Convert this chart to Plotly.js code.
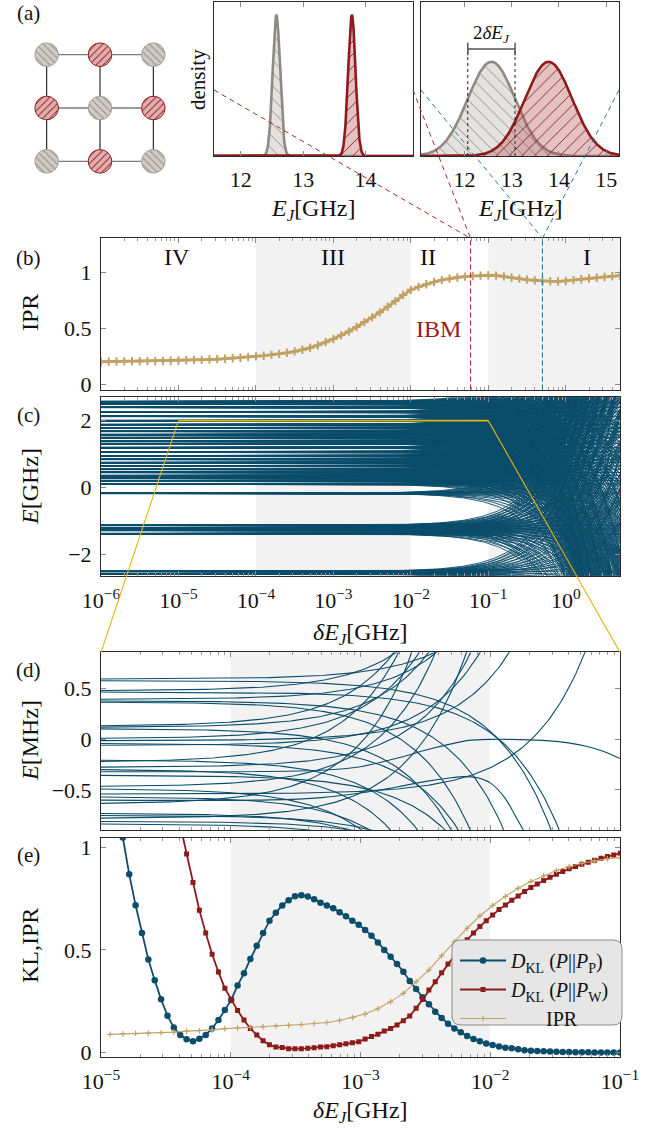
<!DOCTYPE html>
<html><head><meta charset="utf-8">
<script src="https://cdn.plot.ly/plotly-3.0.1.min.js"></script>
<style>html,body{margin:0;padding:0;background:#fff}#chart{width:667px;height:1129px}</style>
</head><body><div id="chart"></div>
<script>
// ================= DATA =================
// (a) lattice: checkerboard of two junction families
const latticeRows = [0,0,0,1,1,1,2,2,2];
const latticeCols = [0,1,2,0,1,2,0,1,2];
const latticeType = ['G','R','G','R','G','R','G','R','G'];
// (a) densities: family means (GHz) and disorder widths (GHz)
const meanGray = 12.57, meanRed = 13.78;
const deltaIBM = 0.059, deltaExample = 0.5;
const dens1Ticks = [12,13,14];
const dens2Ticks = [12,13,14,15];

// (b) IPR vs disorder, log10(deltaE_J) from -6 to 0.7, step 0.1
const iprBStart = -6.0, iprBStep = 0.1;
const iprB = [0.205,0.206,0.207,0.208,0.209,0.210,0.211,0.212,0.213,0.214,
  0.216,0.218,0.220,0.222,0.225,0.228,0.232,0.236,0.241,0.247,
  0.253,0.259,0.266,0.275,0.285,0.297,0.312,0.330,0.352,0.378,
  0.408,0.440,0.475,0.515,0.558,0.600,0.645,0.695,0.745,0.800,
  0.845,0.872,0.895,0.915,0.932,0.945,0.955,0.963,0.968,0.972,
  0.975,0.972,0.965,0.955,0.945,0.936,0.929,0.924,0.921,0.920,
  0.924,0.932,0.940,0.946,0.953,0.960,0.966,0.972];
const regionLabels = ['IV','III','II','I'];
const shadeBC = [[1e-4,1e-2],[1e-1,5.2]];
const shadeDE = [[1e-4,1e-2]];

// (c) spectrum (GHz): clustered levels at weak disorder, sub-level offsets and first-order slopes
const levelsC = [2.57,2.50,2.40,2.26,2.13,2.00,1.88,1.78,1.68,1.58,1.49,1.39,1.31,1.19,1.06,0.94,
  0.84,0.74,0.64,0.54,0.45,0.35,0.28,0.20,0.10,-0.18,-1.14,-1.22,-1.29,-1.39,-2.52,-2.59];
const subOffsetsC = [-0.009,-0.008,-0.007,-0.006,-0.005,-0.004,-0.003,-0.002,-0.001,0.0,
  0.0,0.001,0.002,0.003,0.004,0.005,0.006,0.007,0.008,0.009];
const subSlopesC = [-3.0,-2.4,-1.8,-1.3,-0.9,-0.6,-0.35,-0.15,0.0,0.15,
  0.3,0.5,0.7,0.95,1.2,1.5,1.9,2.3,2.8,3.3];

// (d) zoomed spectrum (MHz): levels and slopes (MHz per 1e-3 GHz of disorder)
const levelsD = [0.595,0.579,0.480,0.467,0.395,0.380,0.368,0.130,0.118,0.105,0.007,-0.013,-0.040,-0.060,
  -0.204,-0.224,-0.276,-0.296,-0.355,-0.467,-0.487,-0.540,-0.566,-0.638,-0.730,-0.750,-0.780,-0.810,-0.835];
const slopesD = [0.07,-0.05,0.20,-0.04,0.12,-0.10,-0.18,0.40,0.22,-0.20,0.30,0.062,-0.15,0.11,
  -0.25,0.55,0.16,-0.35,-0.12,0.35,-0.40,0.026,-0.28,0.60,-0.20,-0.12,0.25,-0.10,-0.15];
const avoidA_dE = [1e-5,1e-4,5e-4,1e-3,2e-3,3.2e-3,5e-3,6.8e-3,1e-2,1.4e-2,2.5e-2,4e-2,5.6e-2,7.5e-2,1e-1];
const avoidA_E  = [-0.320,-0.320,-0.305,-0.27,-0.18,-0.105,-0.045,-0.01,0.0,0.0,-0.01,-0.035,-0.07,-0.12,-0.19];
const avoidB_dE = [1e-5,2e-4,5e-4,1e-3,2e-3,3.2e-3,5e-3,6.3e-3,8e-3,1e-2,1.3e-2,1.6e-2,1.9e-2];
const avoidB_E  = [-0.600,-0.598,-0.575,-0.53,-0.465,-0.415,-0.38,-0.368,-0.38,-0.43,-0.58,-0.78,-0.95];

// (e) KL divergences and IPR on a log grid: log10(deltaE_J) = -4.93 + 0.04914*j
const gridEStart = -4.93, gridEStep = 0.04914;
const klPStartJ = 2;
const klP = [1.049,0.870,0.718,0.583,0.454,0.352,0.259,0.179,0.121,0.085,
  0.064,0.054,0.067,0.085,0.117,0.158,0.207,0.256,0.327,0.386,
  0.456,0.520,0.583,0.643,0.682,0.717,0.743,0.762,0.767,0.761,
  0.748,0.731,0.717,0.704,0.684,0.664,0.643,0.623,0.598,0.570,
  0.537,0.500,0.467,0.432,0.394,0.349,0.309,0.269,0.235,0.199,
  0.168,0.140,0.117,0.098,0.080,0.065,0.054,0.044,0.036,0.029,
  0.023,0.020,0.015,0.011,0.008,0.007,0.005,0.004,0.003,0.002,
  0.002,0.001,0.001,0.001,0.000,0.000,0.000,0.000,0.000];
const klWStartJ = 11;
const klW = [1.109,0.969,0.829,0.694,0.583,0.479,0.392,0.313,0.259,0.204,
  0.158,0.117,0.085,0.057,0.037,0.026,0.024,0.018,0.018,0.018,
  0.020,0.023,0.026,0.028,0.033,0.037,0.042,0.047,0.052,0.065,
  0.077,0.088,0.104,0.117,0.134,0.155,0.178,0.215,0.258,0.305,
  0.345,0.389,0.432,0.476,0.515,0.550,0.583,0.614,0.643,0.671,
  0.697,0.720,0.743,0.764,0.785,0.805,0.822,0.839,0.855,0.870,
  0.883,0.896,0.907,0.919,0.928,0.938,0.948,0.956,0.964,0.972];
const iprEStartJ = 0, iprEEvery = 2;
const iprE = [0.088,0.090,0.092,0.094,0.096,0.099,0.104,0.106,0.110,0.116,
  0.119,0.122,0.125,0.129,0.132,0.136,0.141,0.146,0.156,0.170,
  0.187,0.213,0.248,0.288,0.345,0.402,0.472,0.541,0.606,0.666,
  0.717,0.762,0.801,0.834,0.862,0.888,0.907,0.923,0.935,0.945,0.950];

const ticksBC = [1e-6,1e-5,1e-4,1e-3,1e-2,1e-1,1];
const tickTextBC = ['10<sup>−6</sup>','10<sup>−5</sup>','10<sup>−4</sup>','10<sup>−3</sup>','10<sup>−2</sup>','10<sup>−1</sup>','10<sup>0</sup>'];
const ticksDE = [1e-5,1e-4,1e-3,1e-2,1e-1];
const tickTextDE = ['10<sup>−5</sup>','10<sup>−4</sup>','10<sup>−3</sup>','10<sup>−2</sup>','10<sup>−1</sup>'];
const legendNames = ['<i>D</i><sub>KL</sub> (<i>P</i>||<i>P</i><sub>P</sub>)','<i>D</i><sub>KL</sub> (<i>P</i>||<i>P</i><sub>W</sub>)','       IPR'];

// ================= STYLE / LAYOUT =================
const W = 667, H = 1129;
const FONT = 'Liberation Serif, DejaVu Serif, serif';
const BLUE = '#0b4d6b', RED = '#8e1b1b', TAN = '#c2a264', GRAYC = '#8e8983', YEL = '#e2b30c';
const PY = p => 1 - p / H, PX = p => p / W;

const domLat = {x:[PX(20),PX(180)], y:[PY(188),PY(28)]};
const domD1 = {x:[PX(214),PX(413)], y:[PY(156),PY(2)]};
const domD2 = {x:[PX(421),PX(619)], y:[PY(156),PY(2)]};
const domMX = [PX(101),PX(620)];
const domB = [PY(389.5),PY(238.3)];
const domC = [PY(575.7),PY(397.3)];
const domD = [PY(830),PY(652.3)];
const domE = [PY(1056.7),PY(837.7)];
const rX_BC = [-6,0.70], rX_DE = [-5,-1];
const rY_B = [-0.042,1.304], rY_C = [-2.65,2.70], rY_D = [-0.895,0.859], rY_E = [-0.021,1.048];

const traces = [];
const T = o => { traces.push(Object.assign({hoverinfo:'skip', showlegend:false}, o)); };

// ---- (a) lattice edges
(function(){
  const hx=[], hy=[], vx=[], vy=[];
  [0,1,2].forEach(k => { hx.push(0,2,null); hy.push(k,k,null); vx.push(k,k,null); vy.push(0,2,null); });
  T({x:hx, y:hy, xaxis:'x', yaxis:'y', mode:'lines', line:{color:'#7a7a7a', width:1.4}});
  T({x:vx, y:vy, xaxis:'x', yaxis:'y', mode:'lines', line:{color:'#1a1a1a', width:1.1}});
  const r = 0.22, N = 60;
  latticeRows.forEach((row,i) => {
    const xs=[], ys=[];
    for (let k=0;k<=N;k++){ const a=2*Math.PI*k/N; xs.push(latticeCols[i]+r*Math.cos(a)); ys.push(row+r*Math.sin(a)); }
    const g = latticeType[i]==='G';
    T({x:xs, y:ys, xaxis:'x', yaxis:'y', mode:'lines', fill:'toself',
       fillpattern:{shape: g?'\\':'/', bgcolor: g?'#cfcac4':'#e0aeae', fgcolor: g?'#8e8983':'#8e1b1b', size:5, solidity:0.18},
       line:{color: g?'#a39e98':'#8e1b1b', width:1}});
  });
})();

// ---- (a) densities
function gaussian(xs, mu, s){ return xs.map(x => Math.exp(-0.5*((x-mu)/s)**2)/(s*Math.sqrt(2*Math.PI))); }
const ejGrid = []; for (let x=11.0; x<=15.35; x+=0.004) ejGrid.push(+x.toFixed(3));
[[deltaIBM,'x2','y2'],[deltaExample,'x3','y3']].forEach(([s,xa,ya]) => {
  T({x:ejGrid, y:gaussian(ejGrid, meanGray, s), xaxis:xa, yaxis:ya, mode:'lines', fill:'tozeroy',
     fillpattern:{shape:'\\', bgcolor:'rgba(205,201,196,0.55)', fgcolor:'#8e8983', size:9, solidity:0.1},
     line:{color:GRAYC, width:2.6}});
  T({x:ejGrid, y:gaussian(ejGrid, meanRed, s), xaxis:xa, yaxis:ya, mode:'lines', fill:'tozeroy',
     fillpattern:{shape:'/', bgcolor:'rgba(180,80,80,0.35)', fgcolor:'#8e1b1b', size:9, solidity:0.1},
     line:{color:RED, width:2.6}});
});
const peak1 = 1/(deltaIBM*Math.sqrt(2*Math.PI)), peak2 = 1/(deltaExample*Math.sqrt(2*Math.PI));

// ---- (b) IPR
const xB = iprB.map((_,i) => Math.pow(10, iprBStart + i*iprBStep));
T({x:xB, y:iprB, xaxis:'x4', yaxis:'y4', mode:'lines+markers', line:{color:TAN, width:3},
   marker:{symbol:'cross-thin', size:6, color:TAN, line:{color:TAN, width:2}}});

// ---- (c) spectrum
(function(){
  const ex = []; for (let e=-6; e<-3; e+=0.5) ex.push(e); for (let e=-3; e<=0.72; e+=0.02) ex.push(e);
  const dx = ex.map(e => Math.pow(10,e));
  const X=[], Y=[];
  const n = subSlopesC.length;
  levelsC.forEach((E0,b) => {
    subOffsetsC.forEach((off,i) => {
      const s = subSlopesC[(i*7 + b*3) % n];
      dx.forEach(d => { X.push(d); Y.push(E0 + off + s*d); });
      X.push(null); Y.push(null);
    });
  });
  T({x:X, y:Y, xaxis:'x5', yaxis:'y5', mode:'lines', line:{color:BLUE, width:0.9}});
})();

// ---- (d) zoomed spectrum
(function(){
  const dx = []; for (let e=-5; e<=-0.999; e+=0.02) dx.push(Math.pow(10,e));
  const X=[], Y=[];
  levelsD.forEach((E0,i) => { dx.forEach(d => { X.push(d); Y.push(E0 + slopesD[i]*(d/1e-3)); }); X.push(null); Y.push(null); });
  T({x:X, y:Y, xaxis:'x6', yaxis:'y6', mode:'lines', line:{color:BLUE, width:1.1}});
  T({x:avoidA_dE.concat([null]).concat(avoidB_dE), y:avoidA_E.concat([null]).concat(avoidB_E), xaxis:'x6', yaxis:'y6',
     mode:'lines', line:{color:BLUE, width:1.1, shape:'spline', smoothing:0.8}});
})();

// ---- (e) KL + IPR
const gx = j => Math.pow(10, gridEStart + j*gridEStep);
traces.push({x:klP.map((_,i)=>gx(klPStartJ+i)), y:klP, xaxis:'x7', yaxis:'y7', mode:'lines+markers', name:legendNames[0],
  line:{color:BLUE, width:1.8}, marker:{symbol:'circle', size:6.5, color:BLUE}, hoverinfo:'skip'});
traces.push({x:klW.map((_,i)=>gx(klWStartJ+i)), y:klW, xaxis:'x7', yaxis:'y7', mode:'lines+markers', name:legendNames[1],
  line:{color:RED, width:1.8}, marker:{symbol:'square', size:5, color:RED}, hoverinfo:'skip'});
traces.push({x:iprE.map((_,i)=>gx(iprEStartJ+i*iprEEvery)), y:iprE, xaxis:'x7', yaxis:'y7', mode:'lines+markers', name:legendNames[2],
  line:{color:TAN, width:1.1}, marker:{symbol:'cross-thin', size:4, color:TAN, line:{color:TAN, width:1.2}}, hoverinfo:'skip'});

// ================= AXES =================
function minorLog(lo, hi){ const v=[]; for (let n=lo; n<=hi; n++) for (let k=2;k<=9;k++){ const t=k*Math.pow(10,n); v.push(t);} return v; }
const tickFont = {family:FONT, size:22, color:'#111'};
const base = {showgrid:false, zeroline:false, showline:true, linecolor:'#2a2a2a', linewidth:1, mirror:'allticks',
  ticks:'inside', ticklen:5, tickcolor:'#8a8a8a', tickwidth:1, tickfont:tickFont, fixedrange:true};
function logX(anchor, range, vals, text, labels, minorV){
  return Object.assign({}, base, {type:'log', domain:domMX, anchor, range, tickmode:'array', tickvals:vals, ticktext:text,
    showticklabels:labels, ticklabelstandoff:5, minor:{tickmode:'array', tickvals:minorV, ticks:'inside', ticklen:3, tickcolor:'#9a9a9a'}});
}
function linY(anchor, dom, range, vals, text){
  return Object.assign({}, base, {domain:dom, anchor, range, tickmode:'array', tickvals:vals, ticktext:text, ticklabelstandoff:4});
}
const minorBC = minorLog(-6,0).filter(v => v < 5.05), minorDE = minorLog(-5,-2);

const layout = {
  width:W, height:H, margin:{l:0,r:0,t:0,b:0}, paper_bgcolor:'#fff', plot_bgcolor:'rgba(0,0,0,0)',
  font:{family:FONT, color:'#111'},
  xaxis:{domain:domLat.x, range:[-0.5,2.5], visible:false, fixedrange:true},
  yaxis:{domain:domLat.y, range:[2.5,-0.5], visible:false, fixedrange:true},
  xaxis2:Object.assign({}, base, {domain:domD1.x, anchor:'y2', range:[11.57,14.76], tickmode:'array', tickvals:dens1Ticks, ticklabelstandoff:4}),
  yaxis2:Object.assign({}, base, {domain:domD1.y, anchor:'x2', range:[0, peak1/0.916], ticks:'', showticklabels:false, mirror:true}),
  xaxis3:Object.assign({}, base, {domain:domD2.x, anchor:'y3', range:[11.08,15.27], tickmode:'array', tickvals:dens2Ticks, ticklabelstandoff:4}),
  yaxis3:Object.assign({}, base, {domain:domD2.y, anchor:'x3', range:[0, peak2/0.612], ticks:'', showticklabels:false, mirror:true}),
  xaxis4:logX('y4', rX_BC, ticksBC, tickTextBC, false, minorBC),
  yaxis4:linY('x4', domB, rY_B, [0,0.5,1], ['0','0.5','1']),
  xaxis5:logX('y5', rX_BC, ticksBC, tickTextBC, true, minorBC),
  yaxis5:linY('x5', domC, rY_C, [-2,0,2], ['−2','0','2']),
  xaxis6:logX('y6', rX_DE, ticksDE, tickTextDE, false, minorDE),
  yaxis6:linY('x6', domD, rY_D, [-0.5,0,0.5], ['−0.5','0','0.5']),
  xaxis7:logX('y7', rX_DE, ticksDE, tickTextDE, true, minorDE),
  yaxis7:linY('x7', domE, rY_E, [0,0.5,1], ['0','0.5','1']),
  showlegend:true,
  legend:{x:PX(455), y:PY(941), xanchor:'left', yanchor:'top', bgcolor:'rgba(0,0,0,0)', borderwidth:0,
    font:{family:FONT, size:20, color:'#111'}, tracegroupgap:0, itemwidth:46},
  shapes:[], annotations:[]
};

// shading
shadeBC.forEach(([a,b]) => ['4','5'].forEach(k => layout.shapes.push({type:'rect', xref:'x'+k, yref:'y'+k+' domain', x0:a, x1:b, y0:0, y1:1, fillcolor:'#f2f2f2', line:{width:0}, layer:'below'})));
shadeDE.forEach(([a,b]) => ['6','7'].forEach(k => layout.shapes.push({type:'rect', xref:'x'+k, yref:'y'+k+' domain', x0:a, x1:b, y0:0, y1:1, fillcolor:'#f2f2f2', line:{width:0}, layer:'below'})));

// dashed disorder markers in (b) and connectors to (a)
const xPaperBC = d => domMX[0] + (Math.log10(d)-rX_BC[0])/(rX_BC[1]-rX_BC[0])*(domMX[1]-domMX[0]);
const midFrac = (156-90)/154;
const midY = dom => dom.y[0] + midFrac*(dom.y[1]-dom.y[0]);
[[deltaIBM,'#a52a2a',domD1],[deltaExample,'#2f7597',domD2]].forEach(([d,c,dom]) => {
  layout.shapes.push({type:'line', xref:'x4', yref:'y4 domain', x0:d, x1:d, y0:0, y1:1, line:{color:c, width:1.1, dash:'5px,3px'}});
  const xt = xPaperBC(d), yt = domB[1];
  [dom.x[0], dom.x[1]].forEach(xs => layout.shapes.push({type:'line', xref:'paper', yref:'paper', x0:xs, y0:midY(dom), x1:xt, y1:yt, line:{color:c, width:1, dash:'5px,4px'}, layer:'above'}));
});

// zoom window (yellow) from (c) to (d)
const zoomE = 2;
layout.shapes.push({type:'line', xref:'x5', yref:'y5', x0:ticksDE[0], x1:ticksDE[ticksDE.length-1], y0:zoomE, y1:zoomE, line:{color:YEL, width:1.6}});
const yZoomPaper = domC[0] + (zoomE-rY_C[0])/(rY_C[1]-rY_C[0])*(domC[1]-domC[0]);
layout.shapes.push({type:'line', xref:'paper', yref:'paper', x0:xPaperBC(ticksDE[0]), y0:yZoomPaper, x1:domMX[0], y1:domD[1], line:{color:YEL, width:1.1}, layer:'above'});
layout.shapes.push({type:'line', xref:'paper', yref:'paper', x0:xPaperBC(ticksDE[ticksDE.length-1]), y0:yZoomPaper, x1:domMX[1], y1:domD[1], line:{color:YEL, width:1.1}, layer:'above'});

// 2 deltaE_J bracket in second density
const brY = (156-49)/154;
layout.shapes.push({type:'line', xref:'x3', yref:'y3 domain', x0:meanGray-deltaExample, x1:meanGray-deltaExample, y0:0, y1:brY, line:{color:'#222', width:1, dash:'dot'}});
layout.shapes.push({type:'line', xref:'x3', yref:'y3 domain', x0:meanGray+deltaExample, x1:meanGray+deltaExample, y0:0, y1:brY, line:{color:'#222', width:1, dash:'dot'}});
layout.shapes.push({type:'line', xref:'x3', yref:'y3 domain', x0:meanGray-deltaExample, x1:meanGray+deltaExample, y0:brY, y1:brY, line:{color:'#555', width:1.5}});
[-1,1].forEach(sg => layout.shapes.push({type:'line', xref:'x3', yref:'y3 domain', x0:meanGray+sg*deltaExample, x1:meanGray+sg*deltaExample, y0:brY-0.04, y1:brY+0.04, line:{color:'#555', width:1.5}}));

// legend box (rounded)
function rrPath(x0,y0,x1,y1,r){
  const X=v=>(v/W).toFixed(5), Y=v=>(1-v/H).toFixed(5);
  return `M${X(x0+r)},${Y(y0)} L${X(x1-r)},${Y(y0)} Q${X(x1)},${Y(y0)} ${X(x1)},${Y(y0+r)} L${X(x1)},${Y(y1-r)} Q${X(x1)},${Y(y1)} ${X(x1-r)},${Y(y1)} L${X(x0+r)},${Y(y1)} Q${X(x0)},${Y(y1)} ${X(x0)},${Y(y1-r)} L${X(x0)},${Y(y0+r)} Q${X(x0)},${Y(y0)} ${X(x0+r)},${Y(y0)} Z`;
}
layout.shapes.push({type:'path', xref:'paper', yref:'paper', path:rrPath(452,940,622,1025,9), fillcolor:'#e6e6e6', line:{color:'#8c8c8c', width:1}, layer:'above'});

// annotations
const A = (x,y,text,o) => layout.annotations.push(Object.assign({xref:'paper', yref:'paper', x:PX(x), y:PY(y), text, showarrow:false,
  xanchor:'center', yanchor:'middle', font:{family:FONT, size:24, color:'#111'}}, o||{}));
const lab = {family:FONT, size:21, color:'#111'};
A(28,13,'(a)',{font:lab});
A(28,258,'(b)',{font:lab});
A(28,415,'(c)',{font:lab});
A(28,670,'(d)',{font:lab});
A(28,855,'(e)',{font:lab});
[[177,regionLabels[0]],[333,regionLabels[1]],[428,regionLabels[2]],[587,regionLabels[3]]].forEach(([x,t]) => A(x,257,t,{font:{family:FONT,size:24,color:'#111'}}));
A(438,329,'IBM',{font:{family:FONT,size:24,color:'#9b1c1c'}});
A(30,313,'IPR',{textangle:-90});
A(30,487,'<i>E</i>[GHz]',{textangle:-90});
A(30,741,'<i>E</i>[MHz]',{textangle:-90});
A(30,946,'KL,IPR',{textangle:-90});
A(360,634,'<i>δE<sub>J</sub></i>[GHz]');
A(360,1112,'<i>δE<sub>J</sub></i>[GHz]');
A(198,80,'density',{textangle:-90, font:{family:FONT,size:21,color:'#111'}});
A(313,210,'<i>E<sub>J</sub></i>[GHz]');
A(520,210,'<i>E<sub>J</sub></i>[GHz]');
A(491,34,'2<i>δE<sub>J</sub></i>',{font:{family:FONT,size:19,color:'#111'}});

Plotly.newPlot('chart', traces, layout, {displayModeBar:false, staticPlot:true});
</script></body></html>
